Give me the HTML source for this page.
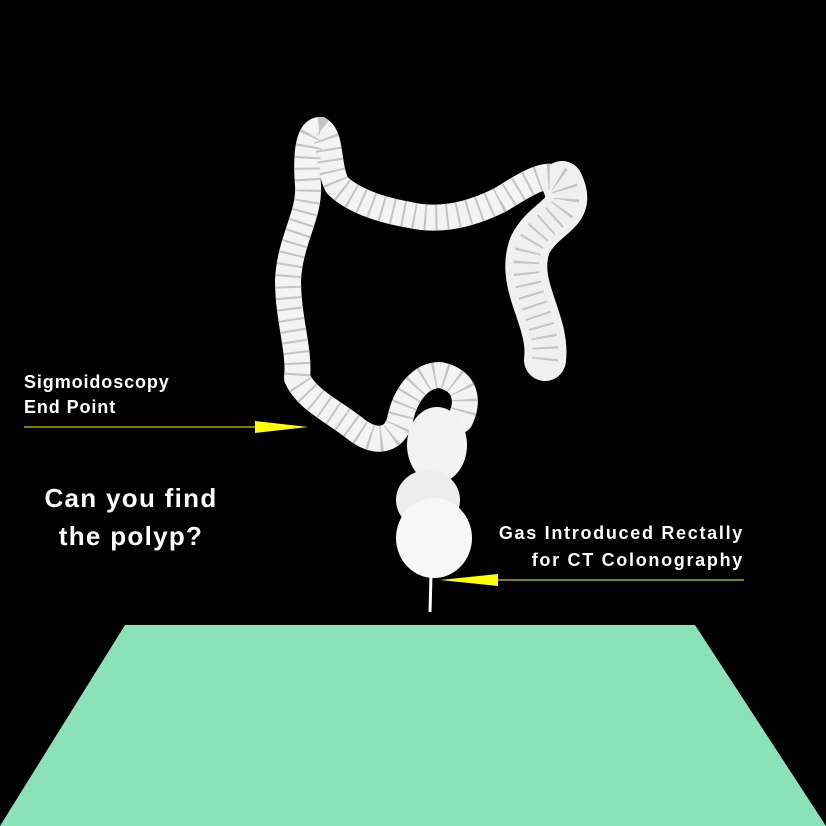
<!DOCTYPE html>
<html><head><meta charset="utf-8"><style>
html,body{margin:0;padding:0;background:#000;width:826px;height:826px;overflow:hidden}
svg{display:block}
text{font-family:"Liberation Sans",sans-serif;font-weight:bold;fill:#fff}
</style></head><body>
<svg width="826" height="826" viewBox="0 0 826 826">
<rect x="0" y="0" width="826" height="826" fill="#000"/>
<polygon points="125,625 695,625 826,826 0,826" fill="#8ce2b8"/>
<g>
<path d="M545,360 C550,320 515,285 530,245 C545,215 578,215 562,182 C548,168 525,185 500,200 C470,215 440,222 410,215 C380,210 352,200 337,185 C327,165 332,138 320,130 C307,130 306,160 308,185 C310,215 290,240 288,280 C288,320 300,350 297,378 C307,400 332,410 357,430 C377,445 395,440 400,420 C405,395 420,375 440,375 C465,380 470,400 460,420"
 fill="none" stroke="#f4f4f4" stroke-width="26" stroke-linecap="round" stroke-linejoin="round"/>
<path d="M545,360 C550,320 515,285 530,245 C545,215 578,215 562,182" fill="none" stroke="#f0f0f0" stroke-width="42" stroke-linecap="round"/>
<path d="M545,360 C550,320 515,285 530,245 C545,215 578,215 562,182 C548,168 525,185 500,200 C470,215 440,222 410,215 C380,210 352,200 337,185 C327,165 332,138 320,130 C307,130 306,160 308,185 C310,215 290,240 288,280 C288,320 300,350 297,378 C307,400 332,410 357,430 C377,445 395,440 400,420 C405,395 420,375 440,375 C465,380 470,400 460,420"
 fill="none" stroke="#c4c4c4" stroke-width="26" stroke-dasharray="2 9"/>
<ellipse cx="437" cy="445" rx="30" ry="38" fill="#f2f2f2"/>
<ellipse cx="428" cy="500" rx="32" ry="30" fill="#ededed"/>
<ellipse cx="434" cy="538" rx="38" ry="40" fill="#f7f7f7"/>
<line x1="431" y1="575" x2="430" y2="612" stroke="#fff" stroke-width="3"/>
</g>
<g>
<text x="24" y="388" font-size="18" letter-spacing="0.9">Sigmoidoscopy</text>
<text x="24" y="413" font-size="18" letter-spacing="0.9">End Point</text>
<line x1="24" y1="427" x2="300" y2="427" stroke="#ffff00" stroke-width="1"/>
<polygon points="255,421 308,427 255,433" fill="#ffff00"/>
</g>
<g>
<text x="131" y="507" font-size="26" letter-spacing="1.3" text-anchor="middle">Can you find</text>
<text x="131" y="545" font-size="26" letter-spacing="1.3" text-anchor="middle">the polyp?</text>
</g>
<g>
<text x="744" y="539" font-size="18" letter-spacing="1.7" text-anchor="end">Gas Introduced Rectally</text>
<text x="744" y="566" font-size="18" letter-spacing="1.7" text-anchor="end">for CT Colonography</text>
<line x1="445" y1="580" x2="744" y2="580" stroke="#ffff00" stroke-width="1"/>
<polygon points="440,580 498,574 498,586" fill="#ffff00"/>
</g>
</svg>
</body></html>
